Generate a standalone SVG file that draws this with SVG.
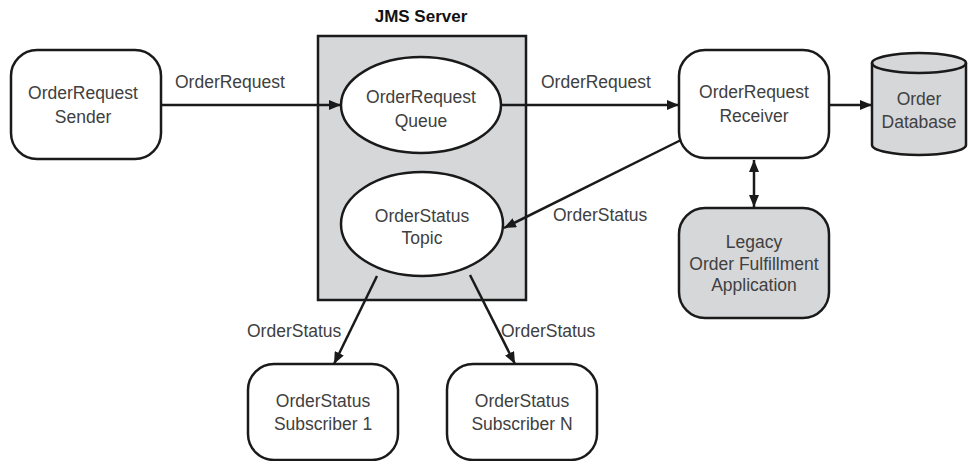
<svg xmlns="http://www.w3.org/2000/svg" width="968" height="461" viewBox="0 0 968 461">
  <defs>
    <marker id="arrow" viewBox="0 0 12 10" refX="12" refY="5" markerWidth="12" markerHeight="10" markerUnits="userSpaceOnUse" orient="auto-start-reverse">
      <path d="M0,0 L12,5 L0,10 Z" fill="#1a1a1a"/>
    </marker>
    <style>
      .box { fill: #ffffff; stroke: #1a1a1a; stroke-width: 2.5; }
      .grey { fill: #d6d7d9; stroke: #1a1a1a; stroke-width: 2.5; }
      .edge { fill: none; stroke: #1a1a1a; stroke-width: 2.5; }
      text { font-family: "Liberation Sans", Arial, sans-serif; font-size: 17.5px; fill: #404040; }
      .c { text-anchor: middle; }
      .title { font-weight: bold; font-size: 17px; fill: #111; }
    </style>
  </defs>

  <!-- JMS server container -->
  <g id="jms-server">
    <rect class="grey" x="318" y="36" width="208" height="264"/>
    <text class="c title" x="421" y="22">JMS Server</text>
  </g>

  <g id="queue">
    <ellipse class="box" cx="421" cy="105" rx="80" ry="48"/>
    <text class="c" x="421" y="103">OrderRequest</text>
    <text class="c" x="421" y="127">Queue</text>
  </g>

  <g id="topic">
    <ellipse class="box" cx="422" cy="224" rx="81" ry="52"/>
    <text class="c" x="422" y="222">OrderStatus</text>
    <text class="c" x="422" y="244">Topic</text>
  </g>

  <g id="sender">
    <rect class="box" x="11" y="50" width="150" height="109" rx="26"/>
    <text class="c" x="83" y="99">OrderRequest</text>
    <text class="c" x="83" y="123">Sender</text>
  </g>

  <g id="receiver">
    <rect class="box" x="679" y="50" width="150" height="108" rx="26"/>
    <text class="c" x="754" y="98">OrderRequest</text>
    <text class="c" x="754" y="122">Receiver</text>
  </g>

  <g id="database">
    <path class="grey" d="M872,63 A47,10 0 0 1 966,63 L966,145 A47,10 0 0 1 872,145 Z"/>
    <path class="edge" d="M872,63 A47,10 0 0 0 966,63"/>
    <text class="c" x="919" y="105">Order</text>
    <text class="c" x="919" y="128">Database</text>
  </g>

  <g id="legacy">
    <rect class="grey" x="679" y="208" width="150" height="110" rx="26"/>
    <text class="c" x="754" y="248">Legacy</text>
    <text class="c" x="754" y="270">Order Fulfillment</text>
    <text class="c" x="754" y="291">Application</text>
  </g>

  <g id="subscriber-1">
    <rect class="box" x="248" y="364" width="150" height="96" rx="26"/>
    <text class="c" x="323" y="407">OrderStatus</text>
    <text class="c" x="323" y="430">Subscriber 1</text>
  </g>

  <g id="subscriber-n">
    <rect class="box" x="447" y="364" width="150" height="96" rx="26"/>
    <text class="c" x="522" y="407">OrderStatus</text>
    <text class="c" x="522" y="430">Subscriber N</text>
  </g>

  <g id="connectors">
    <line class="edge" x1="161" y1="105" x2="341" y2="105" marker-end="url(#arrow)"/>
    <line class="edge" x1="502" y1="105" x2="679" y2="105" marker-end="url(#arrow)"/>
    <line class="edge" x1="829" y1="105" x2="872" y2="105" marker-end="url(#arrow)"/>
    <line class="edge" x1="681" y1="140" x2="504" y2="228" marker-end="url(#arrow)"/>
    <line class="edge" x1="754" y1="160" x2="754" y2="207" marker-start="url(#arrow)" marker-end="url(#arrow)"/>
    <line class="edge" x1="377" y1="276" x2="334" y2="364" marker-end="url(#arrow)"/>
    <line class="edge" x1="470" y1="275" x2="515" y2="364" marker-end="url(#arrow)"/>

    <text x="175" y="88">OrderRequest</text>
    <text x="541" y="88">OrderRequest</text>
    <text x="553" y="221">OrderStatus</text>
    <text x="247" y="337">OrderStatus</text>
    <text x="501" y="337">OrderStatus</text>
  </g>
</svg>
